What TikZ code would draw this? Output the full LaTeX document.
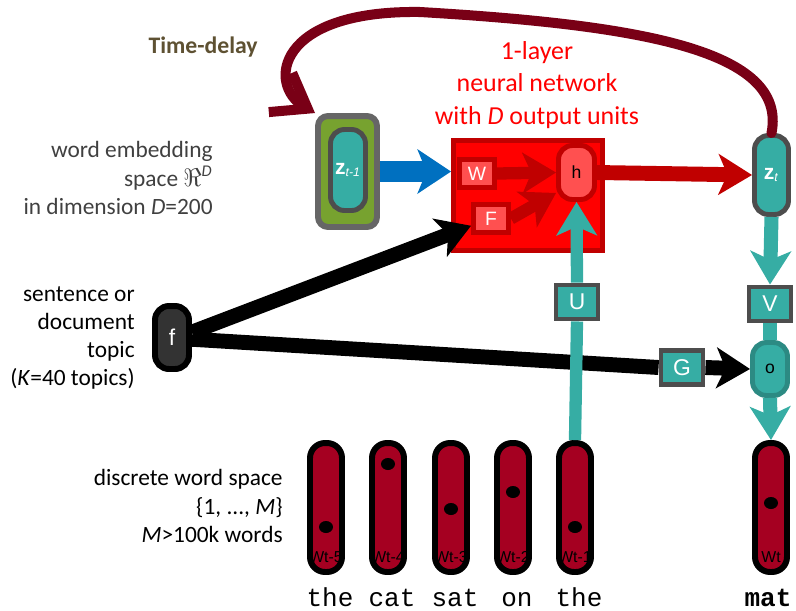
\documentclass[tikz,border=0pt]{standalone}
\usepackage{fontspec}
\setmainfont{Carlito}
\setmonofont{Liberation Mono}
\newfontfamily\arialfont{Liberation Sans}
\usetikzlibrary{arrows.meta,positioning,shapes}

\definecolor{nnteal}{HTML}{36ADA4}
\definecolor{nntealdark}{HTML}{2C8A83}
\definecolor{boxgray}{HTML}{4D4D4D}
\definecolor{outergray}{HTML}{666666}
\definecolor{embgreen}{HTML}{77A22F}
\definecolor{nnred}{HTML}{FF0000}
\definecolor{nndarkred}{HTML}{C00000}
\definecolor{nnpink}{HTML}{FF5050}
\definecolor{vecred}{HTML}{A50021}
\definecolor{delayred}{HTML}{790016}
\definecolor{nnblue}{HTML}{0070C0}
\definecolor{textgray}{HTML}{404040}
\definecolor{delaybrown}{HTML}{5E5132}

\tikzset{
  fatarrow/.style={line width=8pt,-{Stealth[length=19pt,width=23pt,inset=5pt]}},
  fatline/.style={line width=8pt},
  unitbox/.style={rectangle,draw=boxgray,fill=nnteal,line width=2.8pt,text=white,
    font=\arialfont\fontsize{13}{13}\selectfont,inner sep=0pt,
    minimum width=0.84cm,minimum height=0.68cm},
  weightbox/.style={rectangle,draw=nndarkred,fill=nnpink,line width=2.8pt,text=white,
    font=\arialfont\fontsize{11}{11}\selectfont,inner sep=0pt,
    minimum width=0.7cm,minimum height=0.56cm},
  vecnode/.style={rectangle,rounded corners=0.28cm,line width=2.8pt,inner sep=0pt},
  wvec/.style={rectangle,rounded corners=0.3cm,draw=black,fill=vecred,line width=3.4pt,
    minimum width=0.64cm,minimum height=2.58cm,inner sep=0pt},
  wlab/.style={font=\arialfont\fontsize{9}{9}\selectfont,inner sep=0pt},
  word/.style={font=\ttfamily\fontsize{14.8}{15}\selectfont,inner sep=0pt,anchor=base},
  sidetext/.style={font=\fontsize{13.3}{16}\selectfont,align=right,anchor=east,inner sep=0pt},
}

\begin{document}
\begin{tikzpicture}[x=0.02cm,y=-0.02cm]
\useasboundingbox (0,0) rectangle (796,610);

% labels on the left
\node[sidetext,font=\bfseries\fontsize{13.5}{16}\selectfont,text=delaybrown] (delaylab) at (258,47) {Time-delay};
\node[sidetext,text=textgray] (emblab) at (213,178) {word embedding\\space \smash{$\Re$\textsuperscript{\textit{D}}}\\in dimension \textit{D}=200};
\node[sidetext] (topiclab) at (135,338) {sentence or\\document\\topic\\(\textit{K}=40 topics)};
\node[sidetext] (disclab) at (283,506) {discrete word space\\\{1, ..., \textit{M}\}\\\textit{M}>100k words};
\node[font=\fontsize{14.75}{18.4}\selectfont,align=center,text=nnred,inner sep=0pt] (nnlab) at (537,85) {1-layer\\neural network\\with \textit{D} output units};

% embedding of the previous word
\node[vecnode,draw=outergray,fill=embgreen,line width=3.4pt,rounded corners=0.2cm,
  minimum width=1.18cm,minimum height=2.22cm] (ztm) at (347.5,171.5) {};
\node[vecnode,draw=boxgray,fill=nnteal,minimum width=0.7cm,minimum height=1.62cm,text=white]
  (ztmin) at (348,170) {\arialfont\textbf{\large z}\textsubscript{\textit{t-1}}};

% the network
\node[rectangle,draw=nndarkred,fill=nnred,line width=2.8pt,minimum width=2.98cm,minimum height=2.2cm] (nn) at (528,195.5) {};
\node[weightbox] (W) at (477,173.5) {W};
\node[weightbox] (F) at (491,218.5) {F};
\node[vecnode,draw=nndarkred,fill=nnpink,minimum width=0.72cm,minimum height=1.08cm,
  font=\arialfont\fontsize{10}{10}\selectfont] (h) at (576.5,172.5) {h};

% output side
\node[vecnode,draw=boxgray,fill=nnteal,minimum width=0.68cm,minimum height=1.58cm,text=white]
  (zt) at (771.5,175) {\arialfont\textbf{\large z}\textsubscript{\textit{t}}};
\node[unitbox] (V) at (770,304) {V};
\node[vecnode,draw=nntealdark,fill=nnteal,minimum width=0.7cm,minimum height=1.06cm,
  font=\arialfont\fontsize{10}{10}\selectfont] (o) at (770,369) {o};

% topic
\node[vecnode,draw=black,fill=black!80,line width=3.4pt,minimum width=0.68cm,minimum height=1.26cm,
  text=white,font=\arialfont\fontsize{13}{13}\selectfont] (f) at (172,337.5) {f};

% word vectors
\def\wvecs{1/326/527/t-5/the,2/388/464/t-4/cat,3/451/509/t-3/sat,4/513/492/t-2/on,5/575/527/t-1/the}
\foreach \i/\x/\dy/\lab/\element in \wvecs {
  \node[wvec] (w\i) at (\x,507.5) {};
  \fill (\x,\dy) ellipse (7 and 6);
  \node[wlab] (l\i) at (\x,557) {W\lab};
  \node[word] (t\i) at (\x+4,606) {\element};
}
\node[wvec] (w6) at (771,507.5) {};
\fill (771,503) ellipse (7 and 6);
\node[wlab] (l6) at (771,557) {Wt};
\node[word,font=\ttfamily\bfseries\fontsize{14.8}{15}\selectfont] (t6) at (768,606) {mat};

\node[unitbox] (U) at (577,302) {U};
\node[unitbox] (G) at (682,367.5) {G};

% connectors
\draw[fatarrow,nnblue,line width=12.5pt,-{Stealth[length=19pt,width=25pt,inset=5pt]}] (ztm.east) -- (ztm.east -| nn.west);
\draw[fatarrow,nndarkred,line width=7pt] (W.east) -- (h.west);
\draw[fatarrow,nndarkred,line width=7pt] (F.east) -- (h.225);
\draw[fatarrow,nndarkred,line width=8.5pt] (h.east) -- (zt.west);
\draw[fatarrow,black,line width=8.5pt] (f.15) -- (F.200);
\draw[fatline,black,line width=8.5pt] (f.-5) -- (G.west);
\draw[fatarrow,black,line width=8.5pt] (G.east) -- (o.west);
\draw[fatline,nnteal,line width=7pt] (w5.north) -- (U.south);
\draw[fatarrow,nnteal,line width=7pt] (U.north) -- (h.south);
\draw[fatarrow,nnteal] (zt.south) -- (V.north);
\draw[fatline,nnteal] (V.south) -- (o.north);
\draw[fatarrow,nnteal] (o.south) -- (w6.north);

% time delay loop
\draw[delayred,line width=5.7pt,line cap=round,-{Straight Barb[length=18pt,width=26pt]}]
  (zt.north) .. controls (788,50) and (640,25) .. (420,12)
  .. controls (275,10) and (268,85) .. (ztm.north west);

\end{tikzpicture}
\end{document}
